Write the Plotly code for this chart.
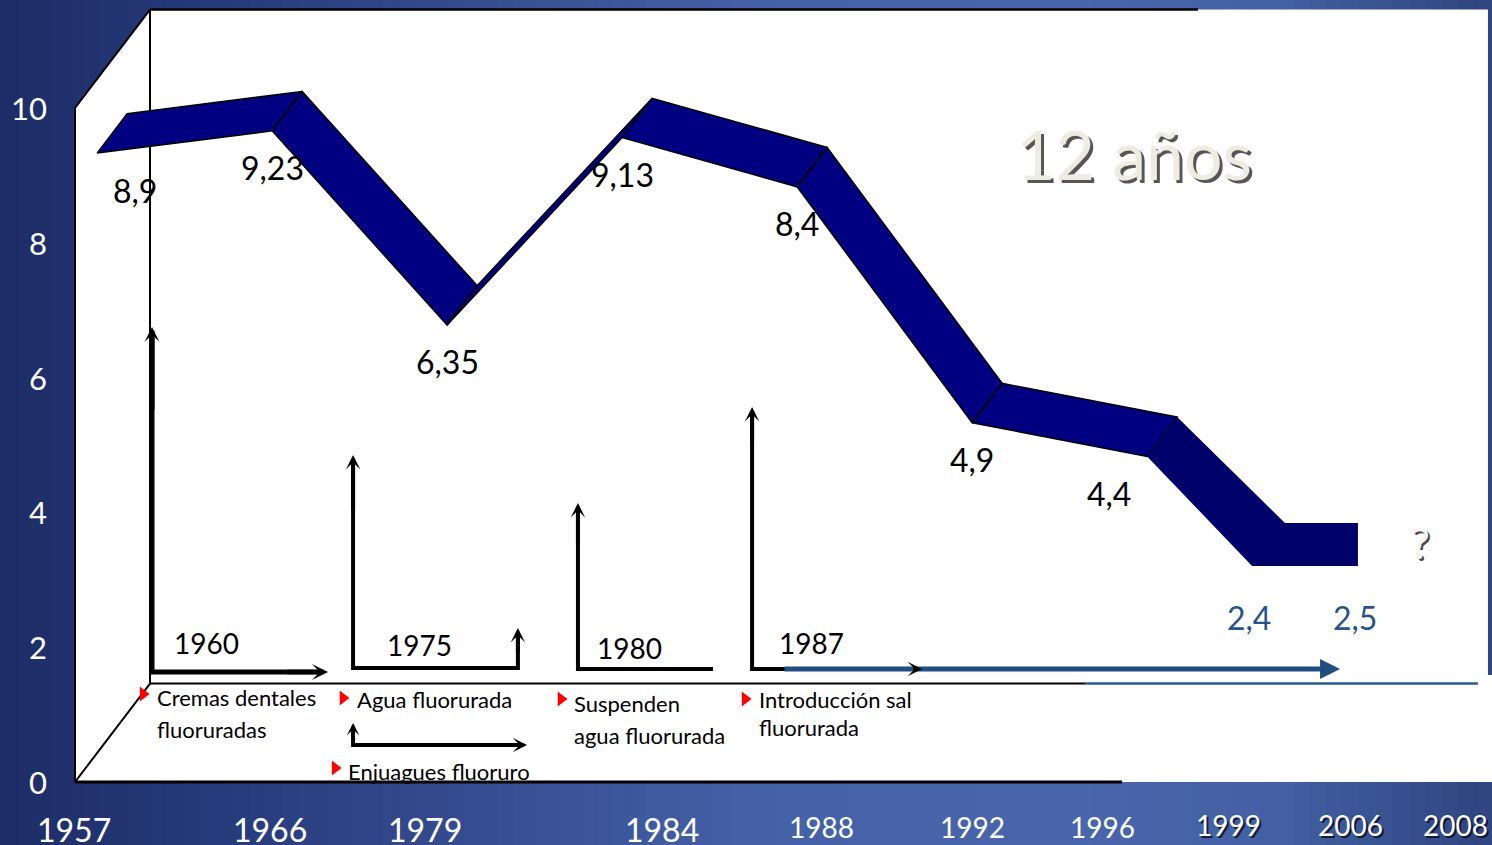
import plotly.graph_objects as go

# ---------------- data ----------------
x_labels = ["1957", "1966", "1979", "1984", "1988", "1992", "1996", "1999", "2006", "2008"]
caries_values = [8.9, 9.23, 6.35, 9.13, 8.4, 4.9, 4.4]
caries_text = ["8,9", "9,23", "6,35", "9,13", "8,4", "4,9", "4,4"]
recent_text = ["2,4", "2,5"]
y_ticks = [0, 2, 4, 6, 8, 10]
event_years = ["1960", "1975", "1980", "1987"]
event_notes = [["Cremas dentales", "fluoruradas"], ["Agua fluorurada"],
               ["Suspenden", "agua fluorurada"], ["Introducción sal", "fluorurada"]]
extra_note = "Enjuagues fluoruro"
headline = "12 años"

# ---------------- layout geometry (axis units) ----------------
FONT = "Lato"
DU, DV = 0.4286, 1.46          # full depth of the 3-D box in axis units
F, B = 0.295, 0.695            # front / back depth of the ribbon
x_label_pos = [-0.006, 1.114, 2.0, 3.354, 4.263, 5.126, 5.874, 6.594, 7.286, 7.891]
x_label_y = [-0.70] * 4 + [-0.668] * 3 + [-0.638] * 3
x_label_size = [32] * 4 + [28] * 6
label_xshift = {0: 38, 6: -38}


def hex2rgb(h):
    h = h.lstrip('#')
    return tuple(int(h[i:i + 2], 16) for i in (0, 2, 4))


def grad(t, stops):
    for (t0, c0), (t1, c1) in zip(stops, stops[1:]):
        if t0 <= t <= t1:
            a = (t - t0) / (t1 - t0)
            r0, r1 = hex2rgb(c0), hex2rgb(c1)
            return 'rgb(%d,%d,%d)' % tuple(round(r0[i] + (r1[i] - r0[i]) * a) for i in range(3))
    return stops[-1][1]


stops = [(0.0, '#1d2c66'), (0.12, '#243777'), (0.3, '#344b8e'), (0.5, '#4460a6'),
         (0.72, '#4966ad'), (0.86, '#4260a2'), (1.0, '#2f4480')]

shapes = []
N = 90
for k in range(N):
    x0, x1 = k / N, (k + 1) / N
    shapes.append(dict(type='rect', xref='paper', yref='paper', x0=x0, x1=min(1, x1 + 0.002),
                       y0=0, y1=1, fillcolor=grad((x0 + x1) / 2, stops), line=dict(width=0), layer='below'))


def path_of(pts, close=False):
    s = 'M ' + ' L '.join(f'{x},{y}' for x, y in pts)
    return s + (' Z' if close else '')


# white 3-D box
box = [(0, 0), (0, 10), (DU, 10 + DV), (8.074, 10 + DV), (8.074, 1.588), (8.3, 1.588), (8.3, 0)]
shapes.append(dict(type='path', path=path_of(box, True), xref='x', yref='y',
                   fillcolor='white', line=dict(width=0), layer='below'))

edges = [((0, 0), (0, 10), 2), ((0, 10), (DU, 10 + DV), 2), ((DU, 10 + DV), (6.417, 10 + DV), 2.5),
         ((DU, 10 + DV), (DU, DV), 2), ((0, 0), (DU, DV), 2), ((DU, DV), (5.771, DV), 2),
         ((0, 0), (5.983, 0), 3)]
for (xa, ya), (xb, yb), w in edges:
    shapes.append(dict(type='line', xref='x', yref='y', x0=xa, y0=ya, x1=xb, y1=yb,
                       line=dict(color='black', width=w), layer='below'))
shapes.append(dict(type='line', xref='x', yref='y', x0=5.771, y0=DV, x1=8.017, y1=DV,
                   line=dict(color='#2c5a8c', width=2.5), layer='below'))

# L-shaped bracket lines (arrowheads added as annotations)
brackets = [
    ([(0.44, 6.66), (0.44, 1.632), (1.41, 1.632)], 5),
    ([(1.589, 4.77), (1.589, 1.691), (2.531, 1.691), (2.531, 2.2)], 4),
    ([(1.589, 0.80), (1.589, 0.549), (2.55, 0.549)], 4),
    ([(2.874, 4.06), (2.874, 1.677), (3.646, 1.677)], 4),
    ([(3.869, 5.48), (3.869, 1.677), (4.8, 1.677)], 4),
]
for pts, w in brackets:
    shapes.append(dict(type='path', path=path_of(pts), xref='x', yref='y',
                       line=dict(color='black', width=w), layer='above'))

fig = go.Figure()

# ribbon segments
v = caries_values
for k in range(len(v) - 1):
    xs = [k + F * DU, k + 1 + F * DU, k + 1 + B * DU, k + B * DU]
    ys = [v[k] + F * DV, v[k + 1] + F * DV, v[k + 1] + B * DV, v[k] + B * DV]
    fig.add_trace(go.Scatter(x=xs + [xs[0]], y=ys + [ys[0]], mode='lines', fill='toself',
                             fillcolor='#000080', line=dict(color='black', width=1.5),
                             hoverinfo='skip', showlegend=False))

# hand-drawn continuation of the ribbon
last = len(v) - 1
tail = [(last + F * DU, v[-1] + F * DV), (last + B * DU, v[-1] + B * DV),
        (6.914, 3.843), (7.331, 3.843), (7.331, 3.205), (6.726, 3.205)]
fig.add_trace(go.Scatter(x=[p[0] for p in tail] + [tail[0][0]], y=[p[1] for p in tail] + [tail[0][1]],
                         mode='lines', fill='toself', fillcolor='#00006b', line=dict(width=0, color='#00006b'),
                         hoverinfo='skip', showlegend=False))

# red bullets
bullets = [(0.389, 1.306), (1.531, 1.246), (1.486, 0.208), (2.777, 1.231), (3.829, 1.231)]
fig.add_trace(go.Scatter(x=[b[0] for b in bullets], y=[b[1] for b in bullets], mode='markers',
                         marker=dict(symbol='triangle-right', size=13, color='#ff0000'),
                         hoverinfo='skip', showlegend=False))

ann = []


def text(x, y, t, size, color='black', xanchor='center', xshift=0, yshift=0):
    ann.append(dict(x=x, y=y, xref='x', yref='y', text=t, showarrow=False, xanchor=xanchor,
                    yanchor='middle', xshift=xshift, yshift=yshift,
                    font=dict(family=FONT, size=size, color=color)))


def arrow(x0, y0, x1, y1, w, color='black', head=3, size=0.6):
    ann.append(dict(x=x1, y=y1, ax=x0, ay=y0, xref='x', yref='y', axref='x', ayref='y', text='',
                    showarrow=True, arrowhead=head, arrowsize=size, arrowwidth=w,
                    arrowcolor=color, standoff=0))


# arrowheads
arrow(0.44, 5.5, 0.44, 6.751, 5, size=0.5)
arrow(1.2, 1.632, 1.446, 1.632, 4.5)
arrow(1.589, 4.0, 1.589, 4.852, 4)
arrow(2.531, 1.9, 2.531, 2.285, 4)
arrow(1.589, 0.6, 1.589, 0.875, 3.5)
arrow(2.3, 0.549, 2.583, 0.549, 4)
arrow(2.874, 3.5, 2.874, 4.139, 4)
arrow(3.869, 5.0, 3.869, 5.564, 4)
arrow(4.046, 1.677, 7.229, 1.677, 5, color='#1f4e80', head=2, size=0.8)
arrow(4.78, 1.677, 4.84, 1.677, 3, size=0.8)

# value labels
for k, (val, t) in enumerate(zip(caries_values, caries_text)):
    text(k + F * DU, val + F * DV, t, 32, xshift=label_xshift.get(k, 0), yshift=-37)
for x, t in zip([6.709, 7.314], recent_text):
    text(x, 2.448, t, 32, color='#285289')

# year labels inside the brackets
for (x, y), t in zip([(0.754, 2.062), (1.971, 2.033), (3.166, 1.988), (4.206, 2.062)], event_years):
    text(x, y, t, 28)

# event notes
note_pos = [[(0.457, 1.261), (0.457, 0.772)], [(1.6, 1.217)],
            [(2.84, 1.172), (2.84, 0.697)], [(3.897, 1.231), (3.897, 0.816)]]
for lines, poss in zip(event_notes, note_pos):
    for t, (x, y) in zip(lines, poss):
        text(x, y, t, 22, xanchor='left')
text(1.549, 0.16, extra_note, 22, xanchor='left')

# y tick labels
for t in y_ticks:
    text(-0.146, t, str(t), 31, color='white', xanchor='right')

# x labels
for i, (t, x, y, s) in enumerate(zip(x_labels, x_label_pos, x_label_y, x_label_size)):
    if i >= 7:
        text(x, y, t, s, color='rgba(10,10,30,0.8)', xshift=2, yshift=-2)
    text(x, y, t, s, color='white')

# headline and question mark
text(6.05, 9.33, headline, 68, color='rgba(30,30,30,0.75)', xshift=3, yshift=-3)
text(6.05, 9.33, headline, 68, color='#EEECE1')
text(7.686, 3.546, '?', 42, color='rgba(40,40,40,0.85)', xshift=2, yshift=-2)
text(7.686, 3.546, '?', 42, color='#f2f2f2')

fig.update_layout(
    width=1492, height=845,
    margin=dict(l=0, r=0, t=0, b=0, pad=0),
    paper_bgcolor='#2f4585', plot_bgcolor='rgba(0,0,0,0)',
    xaxis=dict(range=[-75 / 175, 1417 / 175], visible=False, fixedrange=True),
    yaxis=dict(range=[(782 - 845) / 67.4, 782 / 67.4], visible=False, fixedrange=True),
    shapes=shapes, annotations=ann, showlegend=False,
)

fig.write_html("out.html")
